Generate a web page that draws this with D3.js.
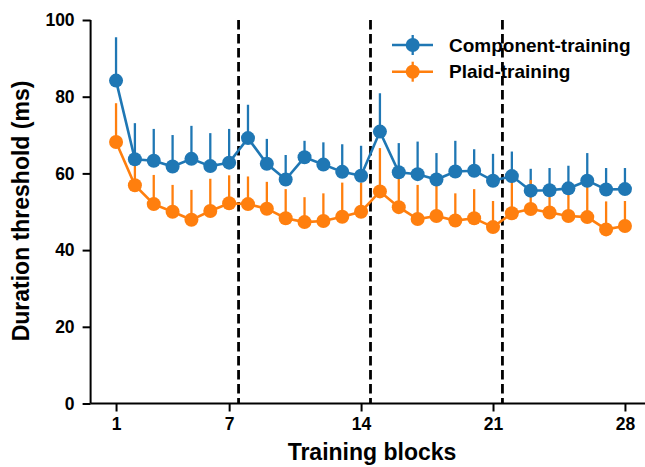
<!DOCTYPE html>
<html>
<head>
<meta charset="utf-8">
<script src="https://cdn.jsdelivr.net/npm/d3@7"></script>
<style>
  html, body { margin: 0; padding: 0; background: #fff; }
  svg { display: block; font-family: "Liberation Sans", Arial, sans-serif; font-weight: bold; }
</style>
</head>
<body>
<svg id="chart" width="645" height="467"></svg>
<script>
const blocks = d3.range(1, 29);
const componentMean = [84.2, 63.7, 63.3, 61.8, 63.8, 61.9, 62.8, 69.2, 62.5, 58.4, 64.2, 62.3, 60.4, 59.4, 70.9, 60.3, 59.8, 58.4, 60.5, 60.7, 58.1, 59.3, 55.5, 55.6, 56.1, 58.1, 55.8, 55.9];
const componentErr = [11.3, 9.4, 8.3, 8.2, 8.6, 8.6, 8.8, 8.7, 6.5, 6.4, 4.3, 5.8, 7.2, 7.8, 10.0, 7.6, 8.5, 6.9, 8.0, 5.6, 7.0, 6.4, 5.7, 5.8, 5.9, 7.2, 5.6, 5.5];
const plaidMean = [68.2, 56.9, 52.0, 50.0, 47.9, 50.2, 52.2, 52.0, 50.8, 48.3, 47.3, 47.6, 48.7, 50.0, 55.3, 51.2, 48.1, 48.9, 47.7, 48.3, 46.0, 49.6, 50.7, 49.8, 48.9, 48.6, 45.4, 46.3];
const plaidErr = [10.1, 7.1, 7.6, 7.0, 7.8, 8.4, 7.3, 7.2, 7.0, 7.6, 6.5, 7.2, 8.9, 7.6, 11.3, 8.8, 8.9, 8.5, 7.1, 7.6, 6.8, 11.4, 7.6, 7.2, 6.4, 9.3, 7.3, 6.5];
const xTicks = [1, 7, 14, 21, 28];
const yTicks = [0, 20, 40, 60, 80, 100];
const dividers = [7.5, 14.5, 21.5];
const seriesNames = ["Component-training", "Plaid-training"];
const colors = ["#1f77b4", "#ff7f0e"];

const svg = d3.select("#chart");
const x = d3.scaleLinear().domain([-0.35, 29.35]).range([90.6, 650.4]);
const y = d3.scaleLinear().domain([0, 100]).range([403.5, 20]);

// dividers
svg.append("g").selectAll("line").data(dividers).join("line")
  .attr("x1", d => x(d)).attr("x2", d => x(d))
  .attr("y1", y(100)).attr("y2", y(0))
  .attr("stroke", "#000").attr("stroke-width", 2.8)
  .attr("stroke-dasharray", "9.5,4.5");

const series = [
  {name: seriesNames[0], mean: componentMean, err: componentErr, color: colors[0]},
  {name: seriesNames[1], mean: plaidMean, err: plaidErr, color: colors[1]}
];

// error bars (upper only)
series.forEach(s => {
  svg.append("g").selectAll("line").data(blocks).join("line")
    .attr("x1", (d) => x(d)).attr("x2", (d) => x(d))
    .attr("y1", (d, i) => y(s.mean[i]))
    .attr("y2", (d, i) => y(s.mean[i] + s.err[i]))
    .attr("stroke", s.color).attr("stroke-width", 2.3);
});

// lines + markers: orange first, blue on top
[series[1], series[0]].forEach(s => {
  const line = d3.line().x((d) => x(d)).y((d, i) => y(s.mean[i]));
  svg.append("path").datum(blocks)
    .attr("d", line).attr("fill", "none")
    .attr("stroke", s.color).attr("stroke-width", 2.6);
  svg.append("g").selectAll("circle").data(blocks).join("circle")
    .attr("cx", d => x(d)).attr("cy", (d, i) => y(s.mean[i]))
    .attr("r", 7).attr("fill", s.color);
});

// axes
const xAxis = d3.axisBottom(x).tickValues(xTicks).tickSize(8).tickPadding(6).tickFormat(d3.format("d"));
const gx = svg.append("g").attr("transform", `translate(0,${y(0)})`).call(xAxis);
const yAxis = d3.axisLeft(y).tickValues(yTicks).tickSize(8).tickPadding(8).tickFormat(d3.format("d"));
const gy = svg.append("g").attr("transform", `translate(${x.range()[0]},0)`).call(yAxis);
[gx, gy].forEach(g => {
  g.select(".domain").attr("stroke", "#000").attr("stroke-width", 2);
  g.selectAll(".tick line").attr("stroke", "#000").attr("stroke-width", 2);
  g.selectAll(".tick text").attr("fill", "#000").attr("font-size", 17.5)
    .attr("font-family", "'Liberation Sans', Arial, sans-serif").attr("font-weight", "bold");
});
gx.select(".domain").attr("d", `M${x.range()[0]},0H${x.range()[1]}`);
gy.select(".domain").attr("d", `M0,${y.range()[0]}V${y.range()[1]}`);

// axis labels
svg.append("text").attr("x", 372).attr("y", 460).attr("text-anchor", "middle")
  .attr("font-size", 23).text("Training blocks");
svg.append("text").attr("transform", "translate(29,211) rotate(-90)").attr("text-anchor", "middle")
  .attr("font-size", 23).text("Duration threshold (ms)");

// legend
const legend = svg.append("g");
series.forEach((s, i) => {
  const cy = 45 + i * 26.7;
  legend.append("line").attr("x1", 392).attr("x2", 433).attr("y1", cy).attr("y2", cy)
    .attr("stroke", s.color).attr("stroke-width", 2.6);
  legend.append("line").attr("x1", 412.7).attr("x2", 412.7).attr("y1", cy - 10).attr("y2", cy + 10)
    .attr("stroke", s.color).attr("stroke-width", 2.3);
  legend.append("circle").attr("cx", 412.7).attr("cy", cy).attr("r", 7).attr("fill", s.color);
  legend.append("text").attr("x", 449).attr("y", cy + 6.5).attr("font-size", 19).text(s.name);
});
</script>
</body>
</html>
